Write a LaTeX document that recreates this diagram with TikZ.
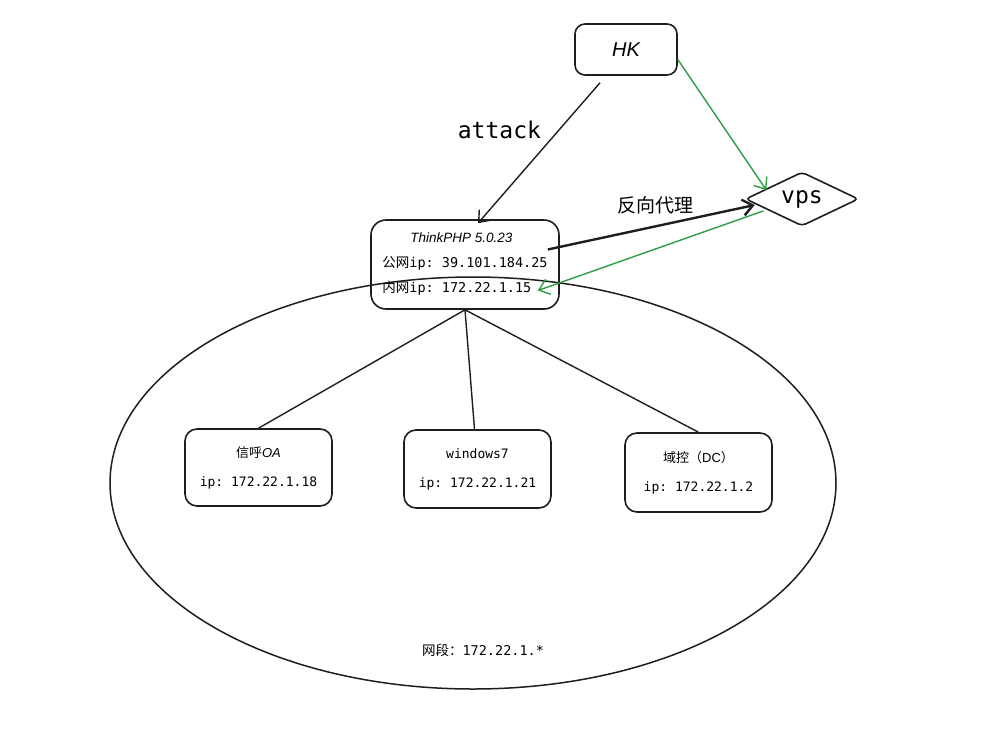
\documentclass[tikz,border=0pt]{standalone}
\usepackage{fontspec}
\setmainfont{Liberation Sans}
\setmonofont{DejaVu Sans Mono}
\newfontfamily\cjk{Noto Sans CJK SC}
\usetikzlibrary{positioning,shapes.geometric,arrows.meta}
\definecolor{InkBlack}{HTML}{1E1E1E}
\definecolor{LinkGreen}{HTML}{2F9E44}
\newcommand{\fsz}[1]{\fontsize{#1}{1.2\dimexpr#1pt\relax}\selectfont}

\begin{document}
\begin{tikzpicture}[
    x=1pt, y=-1pt,
    hostbox/.style={rectangle, draw=InkBlack, line width=1.6pt, rounded corners=12pt, minimum width=147pt, minimum height=78pt, align=center, inner sep=0pt, font=\fsz{13}\ttfamily},
    vpsnode/.style={diamond, draw=InkBlack, line width=1.6pt, rounded corners=4pt, aspect=2, minimum width=113pt, minimum height=54pt, inner sep=1pt, font=\fsz{23}\ttfamily},
    link/.style={draw=InkBlack, line width=1.4pt},
    arrow/.style={-{Straight Barb[length=10pt, width=16pt]}, draw=InkBlack, line width=1.4pt},
    thickarrow/.style={-{Straight Barb[length=10pt, width=16pt]}, draw=InkBlack, line width=2.4pt},
    greenarrow/.style={-{Straight Barb[length=10pt, width=16pt]}, draw=LinkGreen, line width=1.4pt}
  ]
    \useasboundingbox[fill=white] (0,0) rectangle (991,732);

    % Subnet (ellipse)
    \node[ellipse, draw=InkBlack, line width=1.5pt, minimum width=726pt, minimum height=412pt] (subnet) at (473,483) {};
    \node[font=\fsz{13.5}] (subnetlbl) at (483,650) {\cjk 网段：\ttfamily 172.22.1.*};

    % Attacker and relay
    \node[hostbox, minimum width=102pt, minimum height=51pt, rounded corners=10pt, font=\fsz{20}\itshape] (hk) at (626,49.5) {HK};
    \node[vpsnode] (vps) at (802,199) {vps};

    % Entry host
    \node[hostbox, minimum width=188pt, minimum height=89pt, rounded corners=15pt, align=left, font=\fontsize{13.5}{25}\selectfont] (php) at (465,264.5)
      {\hspace*{28pt}\itshape ThinkPHP 5.0.23\\{\cjk 公网}\ttfamily ip: 39.101.184.25\\{\cjk 内网}\ttfamily ip: 172.22.1.15};

    % Internal hosts
    \node[hostbox, minimum height=77pt, font=\fontsize{13}{29}\selectfont] (oa) at (258.5,467.5)
      {{\cjk 信呼}\itshape OA\\\ttfamily ip: 172.22.1.18};
    \node[hostbox, font=\fontsize{13}{29}\selectfont\ttfamily] (win7) at (477.5,469)
      {windows7\\ip: 172.22.1.21};
    \node[hostbox, minimum height=79pt, font=\fontsize{13}{29}\selectfont] (dc) at (698.5,472.5)
      {{\cjk 域控（}DC{\cjk ）}\\\ttfamily ip: 172.22.1.2};

    % Links to internal hosts
    \draw[link] (php.south) -- (oa.north);
    \draw[link] (php.south) -- ([xshift=-3pt]win7.north);
    \draw[link] (php.south) -- (dc.north);

    % Attack and proxy
    \draw[arrow] ([xshift=-26pt, yshift=-7pt]hk.south) -- node[above left=10pt and -6pt, font=\fsz{23}\ttfamily] (attacklbl) {attack} ([xshift=13pt, yshift=-4pt]php.north);
    \draw[thickarrow] ([xshift=-12pt, yshift=15pt]php.east) -- node[above=8pt, pos=0.52, font=\fsz{19}\cjk] (proxylbl) {反向代理} ([xshift=10pt, yshift=-6pt]vps.west);
    \draw[greenarrow] ([yshift=-10pt]hk.east) -- ([xshift=-7pt, yshift=-5pt]vps.north west);
    \draw[greenarrow] ([xshift=-10pt, yshift=2pt]vps.south west) -- ([xshift=-22pt, yshift=-26pt]php.east);

  \end{tikzpicture}
\end{document}
